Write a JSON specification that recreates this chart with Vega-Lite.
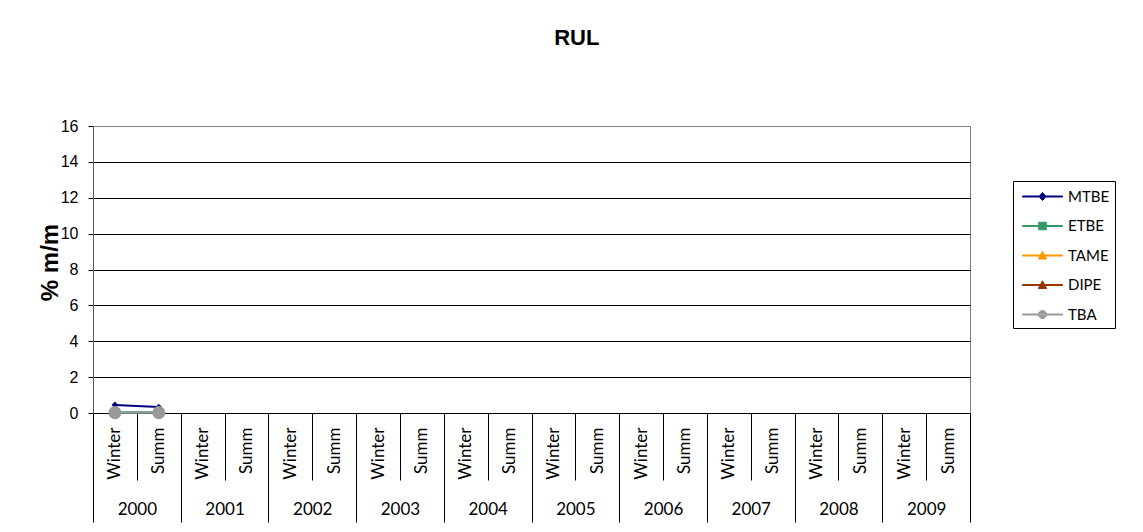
{
  "$schema": "https://vega.github.io/schema/vega-lite/v6.json",
  "width": 877,
  "height": 287,
  "autosize": "none",
  "padding": {"left": 93, "top": 126, "right": 173, "bottom": 119},
  "background": "white",
  "title": {"text": "RUL", "anchor": "middle", "frame": "bounds", "font": "Liberation Sans", "fontSize": 22, "fontWeight": "bold", "color": "black", "offset": 68},
  "config": {
    "view": {"stroke": "#808080", "strokeWidth": 1},
    "legend": {"orient": "none", "legendX": 920, "legendY": 55, "strokeColor": "black", "fillColor": "white", "padding": 5, "rowPadding": 10.5, "symbolSize": 400, "symbolOffset": 14, "labelOffset": 15, "labelFont": "Lato", "labelFontSize": 15, "labelColor": "black", "symbolStrokeWidth": 1}
  },
  "data": {"values": [
    {"series": "MTBE", "year": "2000", "season": "Winter", "period": "2000 Winter", "value": 0.45},
    {"series": "MTBE", "year": "2000", "season": "Summ", "period": "2000 Summ", "value": 0.33},
    {"series": "ETBE", "year": "2000", "season": "Winter", "period": "2000 Winter", "value": 0.04},
    {"series": "ETBE", "year": "2000", "season": "Summ", "period": "2000 Summ", "value": 0.04},
    {"series": "TBA", "year": "2000", "season": "Winter", "period": "2000 Winter", "value": 0.02},
    {"series": "TBA", "year": "2000", "season": "Summ", "period": "2000 Summ", "value": 0.02}
  ]},
  "layer": [
    {
      "encoding": {
        "x": {"field": "period", "type": "ordinal",
          "scale": {"type": "band", "paddingInner": 0, "paddingOuter": 0, "domain": ["2000 Winter","2000 Summ","2001 Winter","2001 Summ","2002 Winter","2002 Summ","2003 Winter","2003 Summ","2004 Winter","2004 Summ","2005 Winter","2005 Summ","2006 Winter","2006 Summ","2007 Winter","2007 Summ","2008 Winter","2008 Summ","2009 Winter","2009 Summ"]},
          "axis": {"orient": "bottom", "title": null, "tickBand": "extent", "tickSize": 67, "tickColor": "black", "domainColor": "black", "labelAngle": -90, "labelAlign": "right", "labelBaseline": "middle", "labelPadding": -53, "labelFont": "Lato", "labelFontSize": 17, "labelColor": "black", "labelOverlap": false, "labelBound": false, "grid": false, "labelExpr": "split(datum.label, ' ')[1]"}},
        "y": {"field": "value", "type": "quantitative",
          "scale": {"domain": [0, 16], "nice": false},
          "axis": {"title": "% m/m", "titleFont": "Liberation Sans", "titleFontSize": 24, "titleFontWeight": "bold", "titleColor": "black", "titleAngle": -90, "titleX": -36, "titleY": 136, "titleAlign": "center", "titleBaseline": "alphabetic", "values": [0, 2, 4, 6, 8, 10, 12, 14, 16], "tickCount": 12, "labelOverlap": false, "grid": true, "gridColor": {"condition": {"test": "datum.value === 16", "value": "#808080"}, "value": "black"}, "gridWidth": 1, "tickColor": "black", "tickSize": 5, "labelPadding": 10, "labelFont": "Liberation Sans", "labelFontSize": 16, "labelColor": "black", "domainColor": "#595959"}},
        "color": {"field": "series", "type": "nominal",
          "scale": {"domain": ["MTBE", "ETBE", "TAME", "DIPE", "TBA"], "range": ["#000080", "#339966", "#FF9900", "#993300", "#999999"]},
          "legend": {"title": null}}
      },
      "layer": [
        {
          "mark": {"type": "line", "strokeWidth": 2}
        },
        {
          "transform": [{"filter": "datum.series === 'MTBE'"}],
          "mark": {"type": "point", "filled": true, "opacity": 1, "shape": "diamond", "size": 45}
        },
        {
          "transform": [{"filter": "datum.series === 'ETBE'"}],
          "mark": {"type": "point", "filled": true, "opacity": 1, "shape": "square", "size": 45}
        },
        {
          "transform": [{"filter": "datum.series === 'TBA'"}],
          "mark": {"type": "point", "filled": true, "opacity": 1, "shape": "circle", "size": 170}
        },
        {
          "transform": [{"filter": "datum.value < 0"}],
          "mark": {"type": "point", "filled": true, "opacity": 1},
          "encoding": {
            "shape": {"field": "series", "type": "nominal",
              "scale": {"domain": ["MTBE", "ETBE", "TAME", "DIPE", "TBA"],
                "range": [
                  "M-2,-0.05H2V0.05H-2ZM0,-0.4L0.35,0L0,0.4L-0.35,0Z",
                  "M-2,-0.05H2V0.05H-2ZM-0.38,-0.38H0.38V0.38H-0.38Z",
                  "M-2,-0.05H2V0.05H-2ZM0,-0.42L0.42,0.35H-0.42Z",
                  "M-2,-0.05H2V0.05H-2ZM0,-0.42L0.42,0.35H-0.42Z",
                  "M-2,-0.05H2V0.05H-2ZM-0.4,0A0.4,0.4,0,1,0,0.4,0A0.4,0.4,0,1,0,-0.4,0Z"
                ]},
              "legend": {"title": null}}
          }
        }
      ]
    },
    {
      "mark": {"type": "point", "opacity": 0},
      "encoding": {
        "x": {"field": "year", "type": "ordinal",
          "scale": {"type": "band", "paddingInner": 0, "paddingOuter": 0, "domain": ["2000","2001","2002","2003","2004","2005","2006","2007","2008","2009"]},
          "axis": {"orient": "bottom", "title": null, "tickBand": "extent", "tickSize": 109, "tickColor": "black", "domain": false, "labelAngle": 0, "labelAlign": "center", "labelBaseline": "middle", "labelPadding": -13, "labelFont": "Lato", "labelFontSize": 17, "labelColor": "black", "grid": false}}
      }
    }
  ],
  "resolve": {"scale": {"x": "independent"}, "axis": {"x": "independent"}}
}
